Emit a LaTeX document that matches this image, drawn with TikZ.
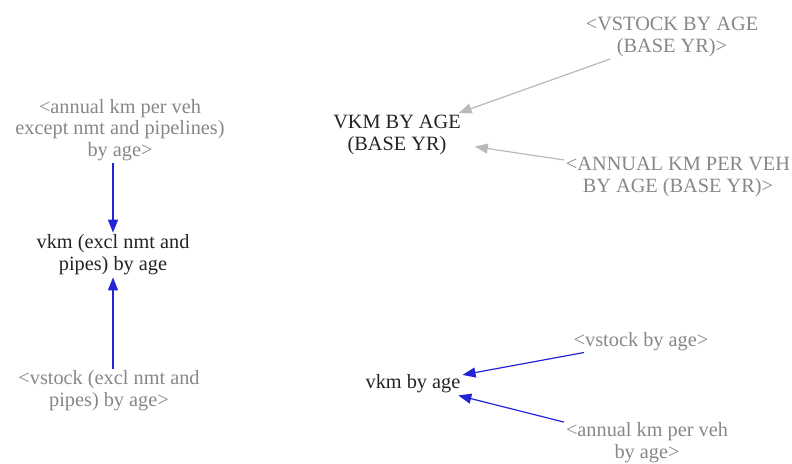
\documentclass[tikz,border=0pt]{standalone}
\usepackage{xcolor}
\usepackage{fontspec}
\setmainfont{Liberation Serif}
\usetikzlibrary{arrows.meta}

\definecolor{vartext}{RGB}{35,35,35}
\definecolor{shadowtext}{RGB}{135,135,135}
\definecolor{linkblue}{RGB}{35,35,215}
\definecolor{linkgray}{RGB}{185,185,185}

\begin{document}
\begin{tikzpicture}[
    x=1pt, y=-1pt,
    every node/.style={align=center, inner sep=2pt, font=\fontsize{20.3}{21.8}\selectfont},
    var/.style={text=vartext},
    shadow/.style={text=shadowtext},
    link/.style={draw=linkblue, line width=1.2pt, -{Triangle[length=13pt, width=10pt]}},
    baselink/.style={link, draw=linkgray}
]
\useasboundingbox (0,0) rectangle (792,463);

% left group
\node[shadow] (annkmx) at (120,130) {<annual km per veh\\except nmt and pipelines)\\by age>};
\node[var] (vkmx) at (113,255) {vkm (excl nmt and\\pipes) by age};
\node[shadow] (vstockx) at (109,391) {<vstock (excl nmt and\\pipes) by age>};
\draw[link] (vkmx.north |- annkmx.south) -- (vkmx.north);
\draw[link] (vkmx.south |- vstockx.north) -- (vkmx.south);

% base year group
\node[var] (vkmbase) at (397,135) {VKM BY AGE\\(BASE YR)};
\node[shadow] (vstockbase) at (672,37) {<VSTOCK BY AGE\\(BASE YR)>};
\node[shadow] (annkmbase) at (678,177) {<ANNUAL KM PER VEH\\BY AGE (BASE YR)>};
\draw[baselink] (vstockbase) -- (vkmbase);
\draw[baselink, shorten >=12pt] (annkmbase) -- (vkmbase);

% vkm by age
\node[var] (vkm) at (413,384) {vkm by age};
\node[shadow] (vstock) at (641,342) {<vstock by age>};
\node[shadow] (annkm) at (647,443) {<annual km per veh\\by age>};
\draw[link, shorten <=-5pt] (vstock) -- (vkm);
\draw[link] (annkm) -- (vkm);
\end{tikzpicture}
\end{document}
